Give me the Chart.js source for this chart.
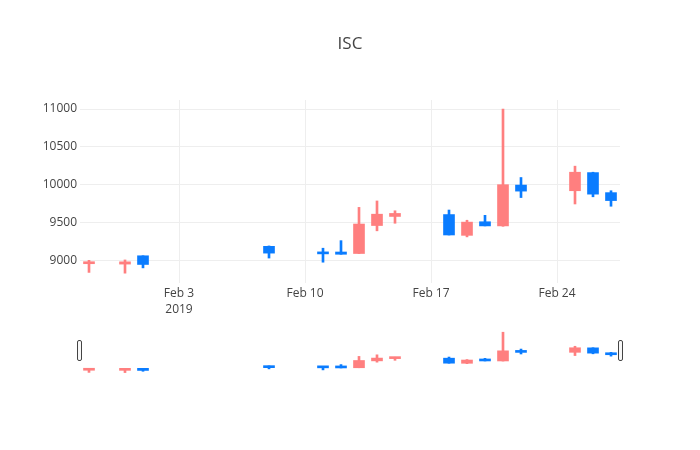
<!DOCTYPE html>
<html>
<head>
<meta charset="utf-8">
<title>ISC</title>
<script src="https://cdn.jsdelivr.net/npm/chart.js@4.4.1/dist/chart.umd.min.js"></script>
<style>
  html, body { margin: 0; padding: 0; background: #fff; }
  .wrap { position: relative; width: 700px; height: 450px; }
  .wrap canvas { position: absolute; left: 0; top: 0; }
</style>
</head>
<body>
<div class="wrap">
  <canvas id="main" width="700" height="450"></canvas>
  <canvas id="slider" width="700" height="450"></canvas>
</div>
<script>
// ISC daily candles, Jan 29 - Feb 27 2019
const dates = ['2019-01-29', '2019-01-31', '2019-02-01', '2019-02-08', '2019-02-11',
  '2019-02-12', '2019-02-13', '2019-02-14', '2019-02-15', '2019-02-18', '2019-02-19',
  '2019-02-20', '2019-02-21', '2019-02-22', '2019-02-25', '2019-02-26', '2019-02-27']
const open = [8955, 8950, 9060, 9185, 9105, 9110, 9090, 9460, 9580, 9605, 9330, 9510, 9455, 9995, 9920, 10160, 9895]
const high = [9000, 9005, 9060, 9190, 9160, 9260, 9700, 9785, 9655, 9665, 9530, 9595, 11000, 10095, 10245, 10165, 9920]
const low = [8840, 8830, 8900, 9030, 8975, 9080, 9090, 9390, 9490, 9335, 9310, 9455, 9450, 9830, 9745, 9840, 9715]
const close = [8980, 8980, 8945, 9095, 9085, 9080, 9480, 9610, 9620, 9335, 9505, 9455, 10000, 9915, 10165, 9875, 9790]

// axis ticks
const xTickDates = ['2019-02-03', '2019-02-10', '2019-02-17', '2019-02-24']
const xTickLabels = [['Feb 3', '2019'], 'Feb 10', 'Feb 17', 'Feb 24']
const yTicks = [9000, 9500, 10000, 10500, 11000]

const UP = '#ff7f7f'
const DOWN = '#0a7cff'
const FONT = '"Open Sans", verdana, arial, sans-serif'

// days since Jan 1 2019 (no date adapter, so x is a plain linear axis)
function dayNum(s) {
  const p = s.split('-').map(Number)
  return (Date.UTC(p[0], p[1] - 1, p[2]) - Date.UTC(2019, 0, 1)) / 864e5
}

const xs = dates.map(dayNum)
const colors = open.map((o, i) => (close[i] >= o ? UP : DOWN))
const xMin = xs[0] - 0.5
const xMax = xs[xs.length - 1] + 0.5
const yMin = 8700
const yMax = 11120

// body = floating bar open..close, wick = thin floating bar low..high
function candleSets() {
  return [
    {
      label: 'body',
      data: xs.map((x, i) => ({ x: x, y: [open[i], close[i]] })),
      backgroundColor: colors,
      barThickness: 11,
      minBarLength: 2,
      grouped: false
    },
    {
      label: 'wick',
      data: xs.map((x, i) => ({ x: x, y: [low[i], high[i]] })),
      backgroundColor: colors,
      barThickness: 2,
      grouped: false
    }
  ]
}

const titlePlugin = {
  id: 'plotTitle',
  afterDraw(chart) {
    const ctx = chart.ctx
    ctx.save()
    ctx.font = '17px ' + FONT
    ctx.fillStyle = '#444'
    ctx.textAlign = 'center'
    ctx.textBaseline = 'middle'
    ctx.fillText('ISC', 350, 44)
    ctx.restore()
  }
}

// range slider grab handles
const handlePlugin = {
  id: 'handles',
  afterDraw(chart) {
    const ctx = chart.ctx
    const a = chart.chartArea
    const top = a.top + 10.5
    ctx.save()
    ctx.fillStyle = '#f8f8f8'
    ctx.strokeStyle = '#444'
    ctx.lineWidth = 1
    ;[a.left - 2.5, a.right - 1.5].forEach(x => {
      ctx.beginPath()
      ctx.roundRect(x, top, 4, 20, 1.5)
      ctx.fill()
      ctx.stroke()
    })
    ctx.restore()
  }
}

const tickFont = { family: FONT, size: 12, lineHeight: 1.3 }

new Chart(document.getElementById('main'), {
  type: 'bar',
  data: { datasets: candleSets() },
  options: {
    responsive: false,
    animation: false,
    layout: { padding: { top: 100, right: 80, left: 0, bottom: 0 } },
    plugins: {
      legend: { display: false },
      tooltip: { enabled: false }
    },
    scales: {
      x: {
        type: 'linear',
        min: xMin,
        max: xMax,
        offset: false,
        grid: { color: '#eee', drawTicks: false, offset: false },
        border: { display: false },
        afterBuildTicks: s => { s.ticks = xTickDates.map(d => ({ value: dayNum(d) })) },
        afterFit: s => { s.height = 167 },
        ticks: {
          callback: (v, i) => xTickLabels[i],
          color: '#444',
          font: tickFont,
          padding: 3,
          maxRotation: 0,
          autoSkip: false
        }
      },
      y: {
        min: yMin,
        max: yMax,
        beginAtZero: false,
        grid: { color: '#eee', drawTicks: false },
        border: { display: false },
        afterBuildTicks: s => { s.ticks = yTicks.map(v => ({ value: v })) },
        afterFit: s => { s.width = 80 },
        ticks: {
          callback: v => String(v),
          color: '#444',
          font: tickFont,
          padding: 3
        }
      }
    }
  },
  plugins: [titlePlugin]
})

// mini copy of the candles under the main plot
new Chart(document.getElementById('slider'), {
  type: 'bar',
  data: { datasets: candleSets() },
  options: {
    responsive: false,
    animation: false,
    layout: { padding: { top: 330, right: 80, left: 80, bottom: 75 } },
    plugins: {
      legend: { display: false },
      tooltip: { enabled: false }
    },
    scales: {
      x: { type: 'linear', min: xMin, max: xMax, offset: false, display: false },
      y: { min: yMin, max: yMax, beginAtZero: false, display: false }
    }
  },
  plugins: [handlePlugin]
})
</script>
</body>
</html>
